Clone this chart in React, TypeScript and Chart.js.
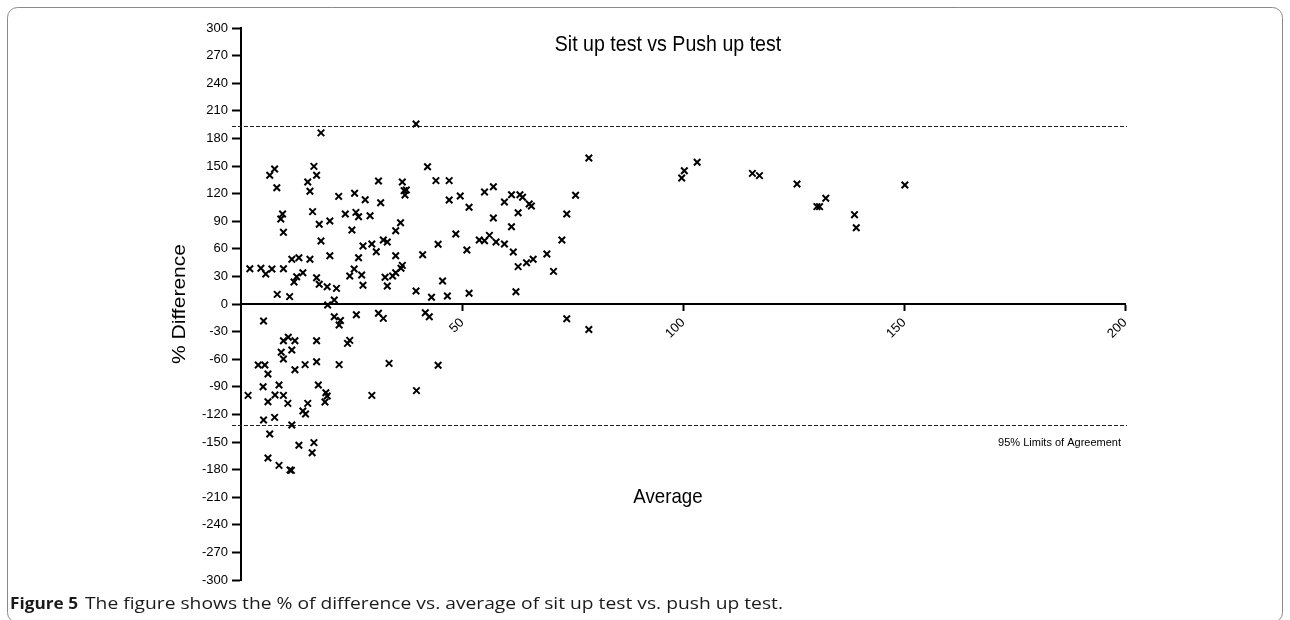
import React, { useEffect, useRef } from 'react';
import { Chart, registerables } from 'chart.js';

Chart.register(...registerables);

const TITLE = 'Sit up test vs Push up test';
const X_LABEL = 'Average';
const Y_LABEL = '% Difference';
const LOA_LABEL = '95% Limits of Agreement';
const CAPTION_BOLD = 'Figure 5';
const CAPTION_TEXT = 'The figure shows the % of difference vs. average of sit up test vs. push up test.';

const X_TICKS = [50, 100, 150, 200];
const X_MIN = 0;
const X_MAX = 200;
const Y_MIN = -300;
const Y_MAX = 300;
const Y_STEP = 30;

const LOA_UPPER = 193.3;
const LOA_LOWER = -131.8;

const averages = [
  18.1, 7.6, 6.5, 8.1, 16.5, 17.1, 15.1, 15.6, 22.1, 25.7, 28.1, 31.1, 31.6,
  9.4, 9.0, 9.6, 16.2, 17.7, 20.1, 18.1, 23.6, 26.0, 26.6, 29.2, 25.1, 35.0,
  27.6, 29.6, 30.6, 32.2, 33.1, 26.6, 20.1, 2.0, 4.5, 5.6, 7.0, 9.6, 11.5,
  13.1, 15.6, 12.0, 12.6, 14.0, 17.1, 17.7, 19.5, 21.6, 8.2, 11.0, 19.6, 21.1,
  24.6, 25.6, 27.3, 27.6, 32.6, 33.1, 34.3, 35.0, 35.0,
  5.1, 21.1, 22.5, 22.2, 26.1, 31.1, 32.2, 9.6, 10.7, 12.2, 17.1, 9.1, 11.5,
  9.6, 24.1, 24.6, 3.9, 5.4, 6.1, 12.2, 14.5, 17.1, 22.2, 33.5, 5.0, 8.6,
  1.6, 7.7, 9.6, 6.1, 10.6, 17.5, 19.2, 19.5, 19.0, 15.1, 29.6,
  14.0, 14.6, 5.1, 7.6, 11.5, 6.5, 13.1, 16.5, 16.1, 6.1, 8.6, 11.1, 11.4,
  39.6, 42.2, 44.1, 47.1, 36.5, 36.9, 37.4, 37.1, 47.1, 49.6, 51.6, 55.1,
  57.1, 59.6, 61.2, 63.1, 63.7, 65.2, 65.7, 62.7, 57.1, 61.2, 78.7, 75.7,
  73.7, 72.6, 69.2, 70.7, 66.1, 64.6, 62.7, 61.6, 59.6, 57.7, 56.2, 55.1,
  53.9, 51.1, 48.6, 44.6, 41.1, 36.1, 36.5, 36.2, 45.6, 39.6, 43.1, 46.7,
  51.6, 62.2,
  41.7, 42.6, 73.7, 78.7, 44.6, 39.7,
  100.3, 99.7, 103.2, 115.7, 117.3, 125.8, 130.3, 130.9, 132.3, 138.8, 139.2, 150.2,
];

const differences = [
  186, 146.7, 139.9, 126.4, 149.6, 139.9, 132.6, 122.5, 117, 120.3, 113.4, 133.7, 110.1,
  97.8, 92.4, 77.9, 100.4, 86.6, 90.2, 68.5, 97.8, 99.6, 94.9, 96.0, 80.4, 79.7,
  63.0, 65.2, 56.8, 69.6, 67.4, 50.3, 52.5, 38.4, 38.8, 32.6, 38.0, 38.4, 48.6,
  50.3, 48.6, 23.9, 29.7, 34.0, 28.6, 21.4, 18.8, 17.0, 10.5, 8.0, -1.1, 4.3,
  30.4, 38.0, 31.5, 20.3, 29.0, 19.6, 30.4, 34.0, 52.5,
  -18.5, -13.8, -18.0, -22.8, -11.6, -10.1, -15.6, -39.9, -36.2, -39.9, -39.9, -52.5, -50.0,
  -59.8, -42.8, -39.5, -66.3, -66.3, -76.1, -71.4, -65.9, -62.7, -65.9, -64.5, -89.9, -88.0,
  -99.3, -98.9, -99.3, -106.2, -108.0, -88.0, -96.4, -100, -106.5, -108, -99.3,
  -116.3, -119.6, -126.1, -123.2, -131.5, -141.3, -153.6, -150.7, -161.6, -167.4, -175.4, -180.4, -180.8,
  195.7, 149.2, 134.1, 134.1, 132.6, 123.2, 123.9, 118.5, 113, 117.4, 105.1, 121.7,
  127.5, 110.9, 118.8, 118.8, 116, 108.7, 106.5, 99.2, 93.5, 84.0, 158.7, 118.2,
  97.8, 69.6, 54.3, 35.5, 48.6, 44.9, 40.6, 56.5, 65.2, 67.4, 74.6, 68.8,
  69.6, 58.7, 76.1, 64.9, 53.6, 88.4, 42.0, 38.8, 25, 14.1, 7.3, 8.7,
  11.6, 13.4,
  -9.5, -13.9, -16.1, -27.7, -66.6, -94.2,
  144.9, 137, 154, 142, 139.5, 130.4, 105.8, 105.8, 114.9, 97.1, 82.9, 129.3,
];

const FONT = '"Liberation Sans", Arial, sans-serif';
const CAPTION_FONT = '"Open Sans", "Noto Sans", sans-serif';
const SQUEEZE = 0.89;

function fitText(ctx: CanvasRenderingContext2D, text: string, x: number, y: number, width: number, align: 'left' | 'center' | 'right') {
  const w = ctx.measureText(text).width;
  const s = w > 0 ? width / w : 1;
  const startX = align === 'left' ? x : align === 'center' ? x - width / 2 : x - width;
  ctx.save();
  ctx.translate(startX, y);
  ctx.scale(s, 1);
  ctx.textAlign = 'left';
  ctx.fillText(text, 0, 0);
  ctx.restore();
}

const decorPlugin = {
  id: 'decor',
  beforeDraw(chart: any) {
    const ctx = chart.ctx as CanvasRenderingContext2D;
    ctx.save();
    ctx.fillStyle = '#ffffff';
    ctx.fillRect(0, 0, chart.width, chart.height);
    ctx.strokeStyle = '#8a8a8a';
    ctx.lineWidth = 1;
    ctx.beginPath();
    (ctx as any).roundRect(7.5, 7.5, 1275, 615, 10);
    ctx.stroke();
    ctx.restore();
  },
  beforeDatasetsDraw(chart: any) {
    const ctx = chart.ctx as CanvasRenderingContext2D;
    const xs = chart.scales.x;
    const ys = chart.scales.y;
    const left = xs.getPixelForValue(X_MIN) - 9;
    const right = xs.getPixelForValue(X_MAX) + 2;
    ctx.save();
    ctx.strokeStyle = '#222';
    ctx.lineWidth = 1;
    ctx.setLineDash([4, 2]);
    [LOA_UPPER, LOA_LOWER].forEach((v) => {
      const y = Math.round(ys.getPixelForValue(v)) + 0.5;
      ctx.beginPath();
      ctx.moveTo(left, y);
      ctx.lineTo(right, y);
      ctx.stroke();
    });
    ctx.restore();
  },
  afterDraw(chart: any) {
    const ctx = chart.ctx as CanvasRenderingContext2D;
    const xs = chart.scales.x;
    const ys = chart.scales.y;
    const area = chart.chartArea;
    const cx = (area.left + area.right) / 2 - 15;
    ctx.save();
    ctx.fillStyle = '#000';
    ctx.textBaseline = 'middle';
    ctx.font = `22px ${FONT}`;
    fitText(ctx, TITLE, cx, 45, ctx.measureText(TITLE).width * SQUEEZE, 'center');
    ctx.font = `21px ${FONT}`;
    fitText(ctx, X_LABEL, cx, 497, ctx.measureText(X_LABEL).width * SQUEEZE, 'center');
    ctx.save();
    ctx.translate(180, ys.getPixelForValue(0));
    ctx.rotate(-Math.PI / 2);
    ctx.scale(1, SQUEEZE);
    ctx.textAlign = 'center';
    ctx.fillText(Y_LABEL, 0, 0);
    ctx.restore();
    ctx.font = `11px ${FONT}`;
    ctx.textAlign = 'right';
    ctx.fillText(LOA_LABEL, xs.getPixelForValue(X_MAX) - 4, ys.getPixelForValue(LOA_LOWER) + 18);
    // caption
    ctx.textBaseline = 'alphabetic';
    ctx.fillStyle = '#1a1a1a';
    ctx.font = `bold 15.5px ${CAPTION_FONT}`;
    fitText(ctx, CAPTION_BOLD, 10, 609, 68, 'left');
    ctx.font = `15.5px ${CAPTION_FONT}`;
    fitText(ctx, CAPTION_TEXT, 85, 609, 698, 'left');
    ctx.restore();
  },
};

export default function App() {
  const canvasRef = useRef<HTMLCanvasElement | null>(null);

  useEffect(() => {
    const canvas = canvasRef.current;
    if (!canvas) return;
    const points = averages.map((x, i) => ({ x, y: differences[i] }));
    const chart = new Chart(canvas, {
      type: 'scatter',
      data: {
        datasets: [
          {
            data: points,
            pointStyle: 'crossRot',
            pointRadius: 4.6,
            pointHoverRadius: 4.6,
            pointBorderWidth: 2,
            borderColor: '#000',
            backgroundColor: '#000',
          },
        ],
      },
      options: {
        responsive: false,
        animation: false,
        devicePixelRatio: 1,
        events: [],
        layout: { padding: { left: 181, right: 165, top: 28, bottom: 40 } },
        plugins: {
          legend: { display: false },
          tooltip: { enabled: false },
          title: { display: false },
        },
        scales: {
          x: {
            type: 'linear',
            min: X_MIN,
            max: X_MAX,
            position: { y: 0 } as any,
            afterFit: (s: any) => {
              s.height = 0;
            },
            afterBuildTicks: (s: any) => {
              s.ticks = X_TICKS.map((v) => ({ value: v }));
            },
            ticks: {
              minRotation: 45,
              maxRotation: 45,
              autoSkip: false,
              color: '#000',
              font: { family: FONT, size: 13 },
              padding: 5,
            },
            grid: {
              display: true,
              drawOnChartArea: false,
              drawTicks: true,
              tickLength: 6,
              tickWidth: 2,
              tickColor: '#000',
            },
            border: { display: true, color: '#000', width: 2 },
          },
          y: {
            type: 'linear',
            min: Y_MIN,
            max: Y_MAX,
            afterFit: (s: any) => {
              s.width = 60;
            },
            ticks: {
              stepSize: Y_STEP,
              color: '#000',
              font: { family: FONT, size: 13 },
              padding: 4,
            },
            grid: {
              display: true,
              drawOnChartArea: false,
              drawTicks: true,
              tickLength: 9,
              tickWidth: 2,
              tickColor: '#000',
            },
            border: { display: true, color: '#000', width: 2 },
          },
        },
      },
      plugins: [decorPlugin],
    });
    return () => chart.destroy();
  }, []);

  return (
    <div style={{ position: 'fixed', left: 0, top: 0, width: 1290, height: 620, background: '#fff' }}>
      <canvas ref={canvasRef} width={1290} height={620} style={{ display: 'block' }} />
    </div>
  );
}
